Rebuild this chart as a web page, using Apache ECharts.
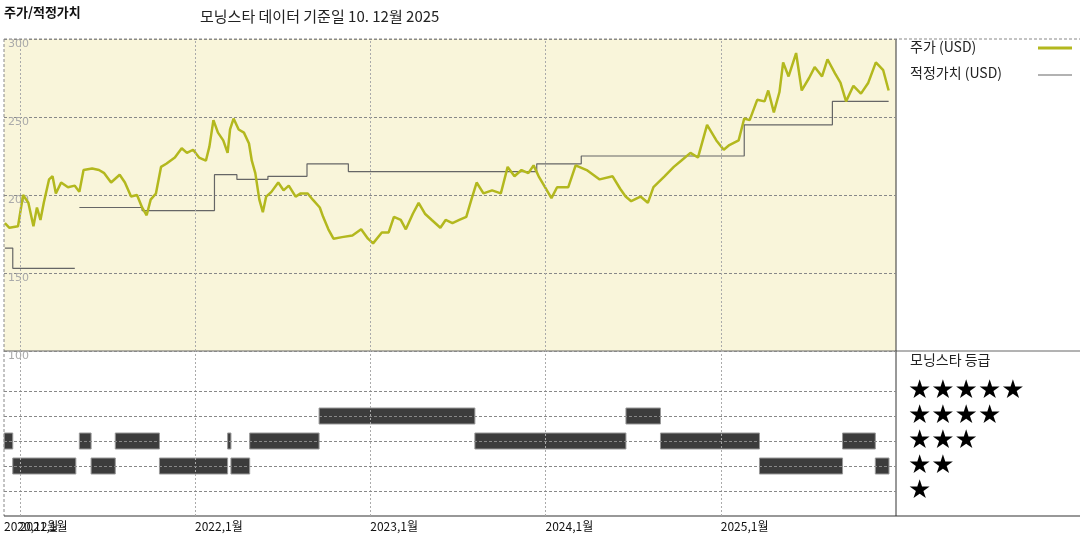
<!DOCTYPE html>
<html>
<head>
<meta charset="utf-8">
<script src="https://cdn.jsdelivr.net/npm/echarts@6/dist/echarts.min.js"></script>
<style>html,body{margin:0;padding:0;background:#fff}#chart{width:1080px;height:540px}</style>
</head>
<body>
<div id="chart"></div>
<script>
// x values are decimal years
const price = [
  [2020.915,182],[2020.941,179],[2020.990,180],[2021.019,200],[2021.049,195],[2021.078,180],[2021.098,192],[2021.118,184],
  [2021.137,195],[2021.167,210],[2021.187,212],[2021.206,201],[2021.236,208],[2021.275,205],[2021.314,206],[2021.340,202],
  [2021.364,216],[2021.413,217],[2021.452,216],[2021.482,214],[2021.521,208],[2021.570,213],[2021.600,208],[2021.635,199],
  [2021.669,200],[2021.698,192],[2021.724,187],[2021.747,197],[2021.777,201],[2021.806,218],[2021.836,220],[2021.885,224],
  [2021.924,230],[2021.954,227],[2021.989,229],[2022.023,224],[2022.062,222],[2022.082,231],[2022.105,248],[2022.131,240],
  [2022.161,235],[2022.186,227],[2022.200,242],[2022.220,249],[2022.249,242],[2022.279,240],[2022.308,233],[2022.324,222],
  [2022.344,214],[2022.367,197],[2022.387,189],[2022.406,199],[2022.436,202],[2022.475,208],[2022.505,203],[2022.535,206],
  [2022.574,199],[2022.603,201],[2022.643,201],[2022.672,197],[2022.712,192],[2022.731,186],[2022.761,178],[2022.790,172],
  [2022.839,173],[2022.898,174],[2022.948,178],[2022.987,172],[2023.016,169],[2023.066,176],[2023.105,176],[2023.135,186],
  [2023.174,184],[2023.203,178],[2023.243,188],[2023.276,195],[2023.312,188],[2023.351,184],[2023.400,179],[2023.430,184],
  [2023.469,182],[2023.508,184],[2023.548,186],[2023.577,197],[2023.607,208],[2023.646,201],[2023.695,203],[2023.745,201],
  [2023.784,218],[2023.823,212],[2023.863,216],[2023.902,214],[2023.932,219],[2023.961,212],[2024.034,198],[2024.066,205],
  [2024.130,205],[2024.172,219],[2024.235,216],[2024.309,210],[2024.383,212],[2024.426,204],[2024.457,199],[2024.489,196],
  [2024.542,199],[2024.584,195],[2024.616,205],[2024.679,212],[2024.732,218],[2024.774,222],[2024.827,227],[2024.870,224],
  [2024.922,245],[2024.975,235],[2025.017,229],[2025.049,232],[2025.102,235],[2025.134,249],[2025.165,248],[2025.208,261],
  [2025.250,260],[2025.271,267],[2025.303,253],[2025.335,266],[2025.356,285],[2025.387,276],[2025.430,291],[2025.462,267],
  [2025.504,275],[2025.536,282],[2025.578,276],[2025.609,287],[2025.652,278],[2025.683,272],[2025.715,260],[2025.757,270],
  [2025.800,265],[2025.842,272],[2025.885,285],[2025.927,280],[2025.958,267]
];
const fairValue = [
  [2020.915,166],[2020.960,153],[2021.314,153],[2021.314,null],
  [2021.340,192],[2021.698,190],[2022.111,213],[2022.239,210],[2022.416,212],[2022.639,220],
  [2022.875,215],[2023.950,220],[2024.204,225],[2025.134,245],[2025.637,260],[2025.958,260]
];
// [start, end, stars]
const ratings = [
  [2020.911,2020.960,3],[2020.960,2021.320,2],[2021.340,2021.407,3],[2021.407,2021.545,2],
  [2021.545,2021.797,3],[2021.797,2022.186,2],[2022.186,2022.205,3],[2022.205,2022.312,2],
  [2022.312,2022.708,3],[2022.708,2023.597,4],[2023.597,2024.459,3],[2024.459,2024.656,4],
  [2024.656,2025.221,3],[2025.221,2025.695,2],[2025.695,2025.882,3],[2025.882,2025.960,2]
];
const yearTicks = [2021, 2022, 2023, 2024, 2025];
const tickLabels = ['2021,1월', '2022,1월', '2023,1월', '2024,1월', '2025,1월'];
const starRows = [1, 2, 3, 4, 5];

const font = 'Noto Sans CJK KR';
const chart = echarts.init(document.getElementById('chart'));
const xMin = 2020.91, xMax = 2026.0;
const vLines = yearTicks.map(y => ({ xAxis: y }));

chart.setOption({
  animation: false,
  textStyle: { fontFamily: font },
  grid: [
    { left: 4, top: 39, width: 892, height: 312, show: true, backgroundColor: '#F9F5DA', borderWidth: 0 },
    { left: 4, top: 351, width: 892, height: 165, show: false }
  ],
  xAxis: [
    { type: 'value', gridIndex: 0, min: xMin, max: xMax, show: false },
    { type: 'value', gridIndex: 1, min: xMin, max: xMax, show: false }
  ],
  yAxis: [
    { type: 'value', gridIndex: 0, min: 100, max: 300, interval: 50,
      axisLine: { show: false }, axisTick: { show: false },
      axisLabel: { inside: true, verticalAlign: 'top', margin: 4, color: '#aaa', fontSize: 11, fontFamily: 'DejaVu Sans' },
      splitLine: { lineStyle: { color: '#888', type: [3, 2] } } },
    { type: 'value', gridIndex: 1, min: 0, max: 6.6, show: false }
  ],
  series: [
    { type: 'line', xAxisIndex: 0, yAxisIndex: 0, data: fairValue, step: 'end', showSymbol: false,
      lineStyle: { color: '#666', width: 1.2 }, connectNulls: false,
      markLine: { silent: true, symbol: 'none', label: { show: false },
        lineStyle: { color: '#aaa', type: [2, 2], width: 1 }, data: vLines } },
    { type: 'line', xAxisIndex: 0, yAxisIndex: 0, data: price, showSymbol: false,
      lineStyle: { color: '#B3B81E', width: 2.5 } },
    { type: 'custom', xAxisIndex: 1, yAxisIndex: 1, data: ratings,
      renderItem: function (params, api) {
        const a = api.coord([api.value(0), api.value(2)]);
        const b = api.coord([api.value(1), api.value(2)]);
        const h = 16;
        return { type: 'rect', shape: { x: a[0], y: a[1] - h / 2, width: Math.max(b[0] - a[0], 2), height: h },
          style: { fill: '#3c3c3c', stroke: '#999', lineWidth: 1 } };
      },
      markLine: { silent: true, symbol: 'none',
        label: { show: true, position: 'start', color: '#111', fontSize: 12, fontFamily: font, distance: 4,
          align: 'left', formatter: p => p.data.txt },
        lineStyle: { color: '#aaa', type: [2, 2], width: 1 },
        data: [{ xAxis: 2020.915, txt: '2020,12월', lineStyle: { width: 0 } }]
          .concat(yearTicks.map((y, i) => ({ xAxis: y, txt: tickLabels[i] })))
          .concat(starRows.map(s => ({ yAxis: s, txt: '', label: { show: false }, lineStyle: { color: '#888', type: [3, 2] } })))
      } }
  ],
  graphic: [
    { type: 'text', left: 4, top: 6, style: { text: '주가/적정가치', font: 'bold 13px "Noto Sans CJK KR"', fill: '#111' } },
    { type: 'text', left: 200, top: 9, style: { text: '모닝스타 데이터 기준일 10. 12월 2025', font: '15px "Noto Sans CJK KR"', fill: '#222' } },
    { type: 'line', shape: { x1: 4, y1: 39, x2: 1080, y2: 39 }, style: { stroke: '#888', lineDash: [3, 2] } },
    { type: 'line', shape: { x1: 4, y1: 39, x2: 4, y2: 516 }, style: { stroke: '#888', lineDash: [3, 2] } },
    { type: 'line', shape: { x1: 4, y1: 351, x2: 1080, y2: 351 }, style: { stroke: '#666' } },
    { type: 'line', shape: { x1: 896, y1: 39, x2: 896, y2: 516 }, style: { stroke: '#333' } },
    { type: 'line', shape: { x1: 4, y1: 516, x2: 1080, y2: 516 }, style: { stroke: '#333', lineWidth: 1.2 } },
    { type: 'text', left: 910, top: 40, style: { text: '주가 (USD)', font: '14px "Noto Sans CJK KR"', fill: '#222' } },
    { type: 'line', shape: { x1: 1038, y1: 48, x2: 1072, y2: 48 }, style: { stroke: '#B3B81E', lineWidth: 3 } },
    { type: 'text', left: 910, top: 66, style: { text: '적정가치 (USD)', font: '14px "Noto Sans CJK KR"', fill: '#222' } },
    { type: 'line', shape: { x1: 1038, y1: 75, x2: 1072, y2: 75 }, style: { stroke: '#666', lineWidth: 1.2 } },
    { type: 'text', left: 910, top: 353, style: { text: '모닝스타 등급', font: '14px "Noto Sans CJK KR"', fill: '#222' } }
  ].concat(starRows.map(s => ({ type: 'text', left: 908, top: 492 - (s - 1) * 25 - 14,
      style: { text: '★'.repeat(s), font: '26px "DejaVu Sans"', fill: '#000' } })))
});
</script>
</body>
</html>
